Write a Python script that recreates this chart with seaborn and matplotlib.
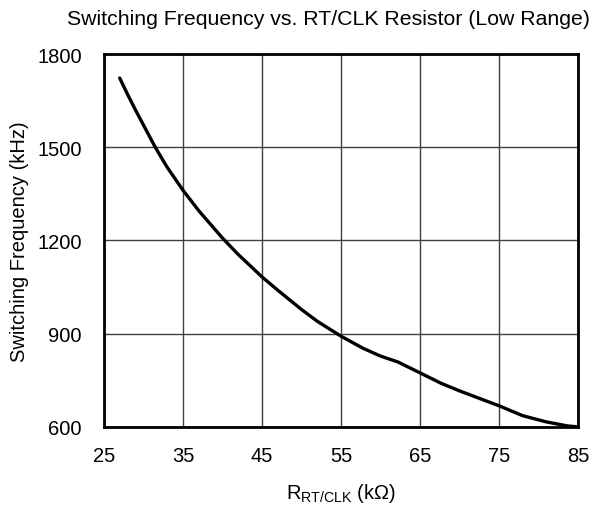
import numpy as np
import pandas as pd
import seaborn as sns
import matplotlib
matplotlib.use('Agg')
import matplotlib.pyplot as plt

# values
r_kohm = [27, 28, 29, 30, 31.5, 33, 35, 37, 40, 42, 45, 47, 50, 52, 55,
          57.8, 60, 62.2, 65, 67.7, 70, 72.7, 75, 78, 81, 83.7, 85]
f_khz = [1723, 1670, 1620, 1572, 1500, 1436, 1362, 1296, 1208, 1155, 1083, 1040, 978, 940, 892,
         853, 828, 809, 774, 740, 716, 690, 668, 636, 616, 603, 600]

xticks = [25, 35, 45, 55, 65, 75, 85]
yticks = [600, 900, 1200, 1500, 1800]

df = pd.DataFrame({'R': r_kohm, 'F': f_khz})

sns.set_style('white')
plt.rcParams['font.family'] = ['Liberation Sans', 'DejaVu Sans']
plt.rcParams['mathtext.fontset'] = 'custom'
plt.rcParams['mathtext.rm'] = 'Liberation Sans'
plt.rcParams['mathtext.it'] = 'Liberation Sans'
plt.rcParams['text.color'] = 'black'
plt.rcParams['axes.labelcolor'] = 'black'
plt.rcParams['xtick.color'] = 'black'
plt.rcParams['ytick.color'] = 'black'

fig = plt.figure(figsize=(6.04, 5.10), dpi=100)
ax = fig.add_axes([0.172, 0.161, 0.785, 0.731])

sns.lineplot(data=df, x='R', y='F', color='black', linewidth=2.4, ax=ax)

ax.set_xlim(25, 85)
ax.set_ylim(600, 1800)
ax.set_xticks(xticks)
ax.set_yticks(yticks)
ax.grid(True, color='#404040', linewidth=1)
ax.tick_params(axis='y', length=0, labelsize=14.5, pad=16)
ax.tick_params(axis='x', length=0, labelsize=14.5, pad=14)
for s in ax.spines.values():
    s.set_linewidth(2)
    s.set_color('black')

ax.set_xlabel(r'R$_{\mathrm{RT/CLK}}$ (k$\Omega$)', fontsize=14.5, labelpad=11)
ax.set_ylabel('Switching Frequency (kHz)', fontsize=14.5, labelpad=6)
fig.text(0.544, 0.961, 'Switching Frequency vs. RT/CLK Resistor (Low Range)',
         ha='center', va='center', fontsize=15.3)

fig.savefig('out.png', dpi=100)
